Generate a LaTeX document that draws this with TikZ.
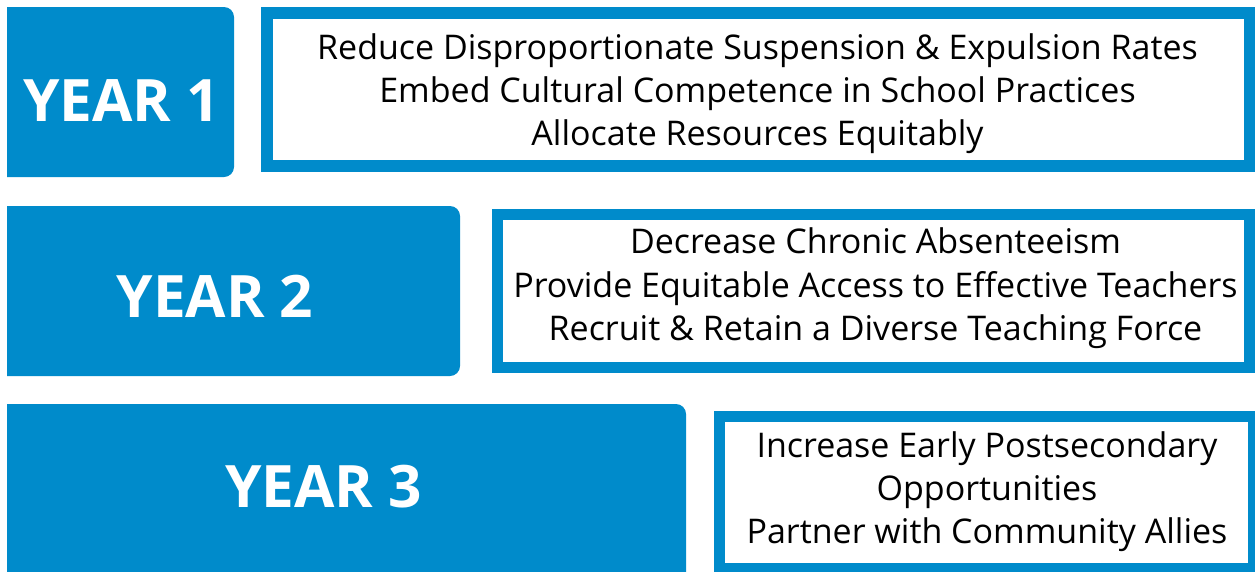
\documentclass[tikz,border=0pt]{standalone}
\usepackage{fontspec}
\setmainfont{Open Sans}
\definecolor{yblue}{HTML}{008BCB}
\begin{document}
\begin{tikzpicture}[x=1pt,y=-1pt,
  yearbox/.style={fill=yblue},
  goalbox/.style={draw=yblue,line width=11.5pt,fill=white},
  yearlabel/.style={anchor=base,inner sep=0pt,text=white,font=\fontsize{58.5}{60}\selectfont\bfseries},
  goal/.style={anchor=base,inner sep=0pt,text=black,font=\fontsize{34}{40}\selectfont}]
\useasboundingbox (0,0) rectangle (1255,571);
\fill[white] (0,0) rectangle (1255,571);
% year boxes
\fill[yearbox,rounded corners=10pt] (7,177) [sharp corners] -- (7,7) [rounded corners=10pt] -- (234,7) -- (234,177) [sharp corners] -- cycle;
\fill[yearbox,rounded corners=10pt] (7,376) [sharp corners] -- (7,206) [rounded corners=10pt] -- (460,206) -- (460,376) [sharp corners] -- cycle;
\fill[yearbox,rounded corners=10pt] (7,590) [sharp corners] -- (7,404) [rounded corners=10pt] -- (686,404) -- (686,590) [sharp corners] -- cycle;
% goal boxes
\draw[goalbox] (267,13) rectangle (1249.5,166);
\draw[goalbox] (497.5,214.5) rectangle (1249.5,367.5);
\draw[goalbox] (719.5,416.5) rectangle (1254,568.5);
% year labels
\node[yearlabel] (y1) at (121.5,121) {YEAR 1};
\node[yearlabel] (y2) at (215,317) {YEAR 2};
\node[yearlabel] (y3) at (323.5,507) {YEAR 3};
% goals
\node[goal] (g1a) at (757.5,59) {Reduce Disproportionate Suspension \& Expulsion Rates};
\node[goal] (g1b) at (757.5,102) {Embed Cultural Competence in School Practices};
\node[goal] (g1c) at (757.5,145) {Allocate Resources Equitably};
\node[goal] (g2a) at (875.5,253) {Decrease Chronic Absenteeism};
\node[goal] (g2b) at (875.5,297) {Provide Equitable Access to Effective Teachers};
\node[goal] (g2c) at (875.5,340) {Recruit \& Retain a Diverse Teaching Force};
\node[goal] (g3a) at (987,457) {Increase Early Postsecondary};
\node[goal] (g3b) at (987,500) {Opportunities};
\node[goal] (g3c) at (987,543) {Partner with Community Allies};
\end{tikzpicture}
\end{document}
